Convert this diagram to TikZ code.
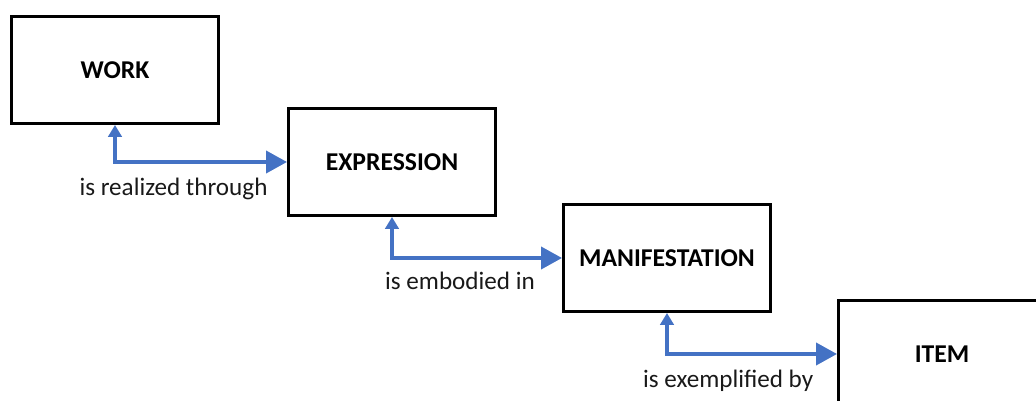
\documentclass[tikz,border=0pt]{standalone}
\usepackage{fontspec}
\setmainfont{Carlito}
\usetikzlibrary{arrows.meta, positioning}

\definecolor{relblue}{RGB}{68,114,196}

\begin{document}
\begin{tikzpicture}[
  x=0.02cm, y=-0.02cm,
  entity/.style={draw, line width=1.7pt, rectangle, minimum width=4.14cm, minimum height=2.14cm, font=\fontsize{14.6}{17}\selectfont\bfseries},
  rel/.style={draw=relblue, line width=2.2pt, {Triangle[width=0.27cm,length=0.24cm]}-{Triangle[width=0.44cm,length=0.42cm]}},
  lbl/.style={font=\fontsize{14.3}{17}\selectfont, text=black!90}
]
\useasboundingbox (0,0) rectangle (1036,401);
\clip (0,0) rectangle (1036,401);

\node[entity] (work) at (115,70) {WORK};
\node[entity] (expression) at (392,162) {EXPRESSION};
\node[entity] (manifestation) at (667,258) {MANIFESTATION};
\node[entity] (item) at (942,354) {ITEM};

% Relationships
\draw[rel] (work.south) |- node[lbl, pos=0.67, below=4.5pt]{is realized through} (expression.west);
\draw[rel] (expression.south) |- node[lbl, pos=0.7, below=3.5pt]{is embodied in} (manifestation.west);
\draw[rel] (manifestation.south) |- node[lbl, pos=0.68, below=4.5pt]{is exemplified by} (item.west);

\end{tikzpicture}
\end{document}
